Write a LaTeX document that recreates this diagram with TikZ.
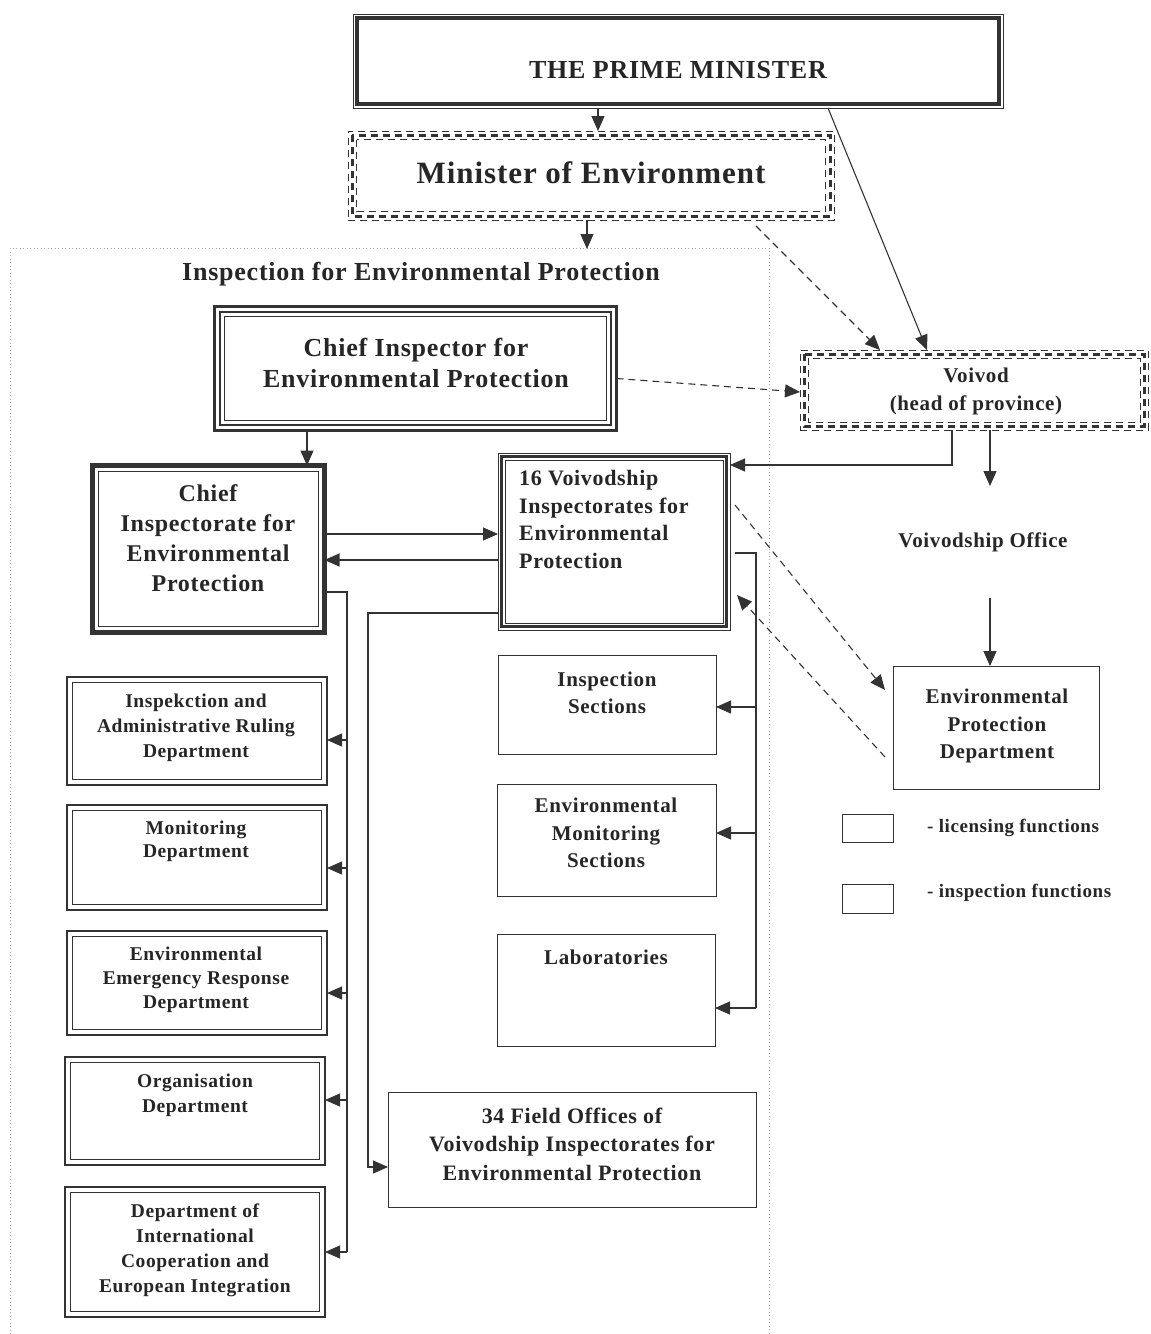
\documentclass[tikz,border=0pt]{standalone}
\usepackage{fontspec}
\setmainfont{Liberation Serif}[LetterSpace=3]
\usetikzlibrary{arrows.meta,calc}
\definecolor{ink}{HTML}{333333}
\definecolor{txt}{HTML}{262626}
\newcommand\fs[2]{\fontsize{#1}{#2}\selectfont\bfseries}
\newcommand\insetrect[3]{\draw[#3] ([shift={(#2,-#2)}]#1.north west) rectangle ([shift={(-#2,#2)}]#1.south east);}
\begin{document}
\begin{tikzpicture}[x=1pt,y=-1pt,
  box/.style={inner sep=0pt, outer sep=0pt, draw=ink, line width=1pt},
  nobox/.style={inner sep=0pt, outer sep=0pt},
  lbl/.style={inner sep=0pt, text=txt, align=center},
  ln/.style={draw=ink, line width=1.1pt},
  arr/.style={ln, -{Triangle[length=15pt,width=13pt]}},
  dsh/.style={dash pattern=on 7pt off 5pt},
]
\useasboundingbox[fill=white] (0,0) rectangle (1151,1334);

% dotted region of the Inspection
\draw[gray!70, line width=1pt, dash pattern=on 1pt off 2.5pt] (10,1334) -- (10,248) -- (769,248) -- (769,1334);
\coordinate (regTop) at (587,249);
\node[lbl, font=\fs{26}{30}] (title) at (421,274) {Inspection for Environmental Protection};

% Prime Minister
\node[box, minimum width=650pt, minimum height=94pt] (pm) at (678,61) {};
\insetrect{pm}{4pt}{ink, line width=3.5pt}
\node[lbl, font=\fs{26}{30}] (pmT) at (678,70) {THE PRIME MINISTER};

% Minister of Environment
\node[box, dsh, minimum width=486pt, minimum height=89pt] (min) at (591,175.5) {};
\insetrect{min}{4pt}{ink, line width=3pt, dsh}
\insetrect{min}{8.5pt}{ink, line width=0.8pt, dsh}
\node[lbl, font=\fs{31}{36}] (minT) at (591,173) {Minister of Environment};

% Chief Inspector
\node[box, line width=3pt, minimum width=402pt, minimum height=124pt] (ci) at (415.5,368.5) {};
\insetrect{ci}{5.5pt}{ink, line width=1.5pt}
\insetrect{ci}{10pt}{ink, line width=1pt}
\node[lbl, font=\fs{26}{31}] (ciT) at (416,363) {Chief Inspector for\\Environmental Protection};

% Voivod
\node[box, dsh, minimum width=348pt, minimum height=80pt] (voi) at (974,390) {};
\insetrect{voi}{4pt}{ink, line width=3pt, dsh}
\insetrect{voi}{8pt}{ink, line width=0.8pt, dsh}
\node[lbl, font=\fs{21}{28}] (voiT) at (976,391) {Voivod\\(head of province)};

% Chief Inspectorate
\node[box, line width=5pt, minimum width=232pt, minimum height=167pt] (cig) at (208.5,549) {};
\insetrect{cig}{6pt}{ink, line width=1.2pt}
\node[lbl, font=\fs{24}{30}] (cigT) at (208,538) {Chief\\Inspectorate for\\Environmental\\Protection};

% 16 Voivodship Inspectorates
\node[box, minimum width=232pt, minimum height=177pt] (v16) at (614,541.5) {};
\insetrect{v16}{3.5pt}{ink, line width=2.5pt}
\insetrect{v16}{7pt}{ink, line width=0.8pt}
\node[lbl, align=left, anchor=west, font=\fs{22}{27.7}] (v16T) at (519,519.5) {16 Voivodship\\Inspectorates for\\Environmental\\Protection};

% Voivodship Office (text only)
\node[nobox, text=txt, font=\fs{21}{25}, minimum height=112pt] (vo) at (983,542) {Voivodship Office};

% Environmental Protection Department
\node[box, minimum width=206pt, minimum height=123pt] (epd) at (996,727.5) {};
\node[lbl, font=\fs{21}{27.5}] (epdT) at (997,726) {Environmental\\Protection\\Department};

% sections
\node[box, minimum width=218pt, minimum height=99pt] (isec) at (607,704.5) {};
\node[lbl, font=\fs{21}{27}] (isecT) at (607,693) {Inspection\\Sections};
\node[box, minimum width=219pt, minimum height=112pt] (ems) at (606.5,840) {};
\node[lbl, font=\fs{21}{27.5}] (emsT) at (606,833) {Environmental\\Monitoring\\Sections};
\node[box, minimum width=218pt, minimum height=112pt] (lab) at (606,990) {};
\node[lbl, font=\fs{21}{27}] (labT) at (606,957) {Laboratories};

% field offices
\node[box, minimum width=368pt, minimum height=115pt] (fo) at (572,1149.5) {};
\node[lbl, font=\fs{22}{28.5}] (foT) at (572,1144) {34 Field Offices of\\Voivodship Inspectorates for\\Environmental Protection};

% departments
\tikzset{dept/.style={box, line width=2pt, minimum width=260pt}}
\node[dept, minimum height=108pt] (d1) at (197,731) {};
\node[dept, minimum height=105pt] (d2) at (197,857.5) {};
\node[dept, minimum height=104pt] (d3) at (197,983) {};
\node[dept, minimum height=108pt] (d4) at (195,1111) {};
\node[dept, minimum height=130pt] (d5) at (195,1252) {};
\foreach \d in {d1,d2,d3,d4,d5}{\insetrect{\d}{5.5pt}{ink, line width=1pt}}
\node[lbl, font=\fs{19.5}{25}] (d1T) at (196,728) {Inspekction and\\Administrative Ruling\\Department};
\node[lbl, font=\fs{19.5}{23.5}] (d2T) at (196,841.5) {Monitoring\\Department};
\node[lbl, font=\fs{19.5}{24}] (d3T) at (196,980) {Environmental\\Emergency Response\\Department};
\node[lbl, font=\fs{19.5}{25}] (d4T) at (195,1095.5) {Organisation\\Department};
\node[lbl, font=\fs{19.5}{25}] (d5T) at (195,1250) {Department of\\International\\Cooperation and\\European Integration};

% legend
\node[box, minimum width=51pt, minimum height=28pt] (lg1) at (867.5,828) {};
\node[lbl, anchor=west, font=\fs{19}{23}] (lg1T) at (927,828) {- licensing functions};
\node[box, minimum width=51pt, minimum height=29pt] (lg2) at (867.5,898.5) {};
\node[lbl, anchor=west, font=\fs{19}{23}] (lg2T) at (927,893) {- inspection functions};

% ---------- connectors ----------
\draw[arr] ([xshift=7pt]min.north |- pm.south) -- ([xshift=7pt]min.north);
\draw[arr] (regTop |- min.south) -- (regTop);
\draw[arr, dsh] ([shift={(165pt,-6pt)}]min.south) -- ([xshift=-94pt]voi.north);
\draw[arr] ([xshift=150pt]pm.south) -- ([xshift=-47pt]voi.north);
\draw[arr, dsh] ([yshift=-10pt]ci.east) -- ([yshift=-2pt]voi.west);
\draw[arr] ([xshift=98.5pt]cig.north |- ci.south) -- ([xshift=98.5pt]cig.north);
\draw[arr] ([yshift=15pt]cig.east) -- ([yshift=15pt]cig.east -| v16.west);
\draw[arr] ([yshift=-11pt]cig.east -| v16.west) -- ([yshift=-11pt]cig.east);
\draw[arr] ([xshift=-22pt]voi.south) |- ([yshift=76.5pt]v16.east);
\draw[arr] ([xshift=7pt]vo.north |- voi.south) -- ([xshift=7pt]vo.north);
\draw[arr] ([xshift=7pt]vo.south) -- ([xshift=7pt]vo.south |- epd.north);
\draw[arr, dsh] ([shift={(5pt,36.5pt)}]v16.east) -- ([shift={(-8pt,37.5pt)}]epd.west);
\draw[arr, dsh] ([shift={(-8pt,-29.5pt)}]epd.west) -- ([shift={(7pt,-53.5pt)}]v16.east);

% bus to sections
\coordinate (busR) at (756,553);
\coordinate (isIn) at ([yshift=-2.5pt]isec.east);
\coordinate (emIn) at ([yshift=7pt]ems.east);
\coordinate (lbIn) at ([yshift=-18pt]lab.east);
\draw[ln] ([shift={(5pt,-11.5pt)}]v16.east) -- (busR) -- (busR |- lbIn);
\draw[arr] (busR |- isIn) -- (isIn);
\draw[arr] (busR |- emIn) -- (emIn);
\draw[arr] (busR |- lbIn) -- (lbIn);

% bus to departments
\coordinate (busL) at (347,592);
\coordinate (d1In) at ([yshift=-9pt]d1.east);
\coordinate (d2In) at ([yshift=-10.5pt]d2.east);
\coordinate (d3In) at ([yshift=-10pt]d3.east);
\coordinate (d4In) at ([yshift=11pt]d4.east);
\coordinate (d5In) at (d5.east);
\draw[ln] ([yshift=-43pt]cig.east) -- (busL) -- (busL |- d5In);
\foreach \t in {d1In,d2In,d3In,d4In,d5In}{\draw[arr] (busL |- \t) -- (\t);}

% field offices
\coordinate (busF) at (368,613);
\draw[arr] ([yshift=-71.5pt]v16.west) -- (busF) |- ([yshift=-17.5pt]fo.west);
\end{tikzpicture}
\end{document}
